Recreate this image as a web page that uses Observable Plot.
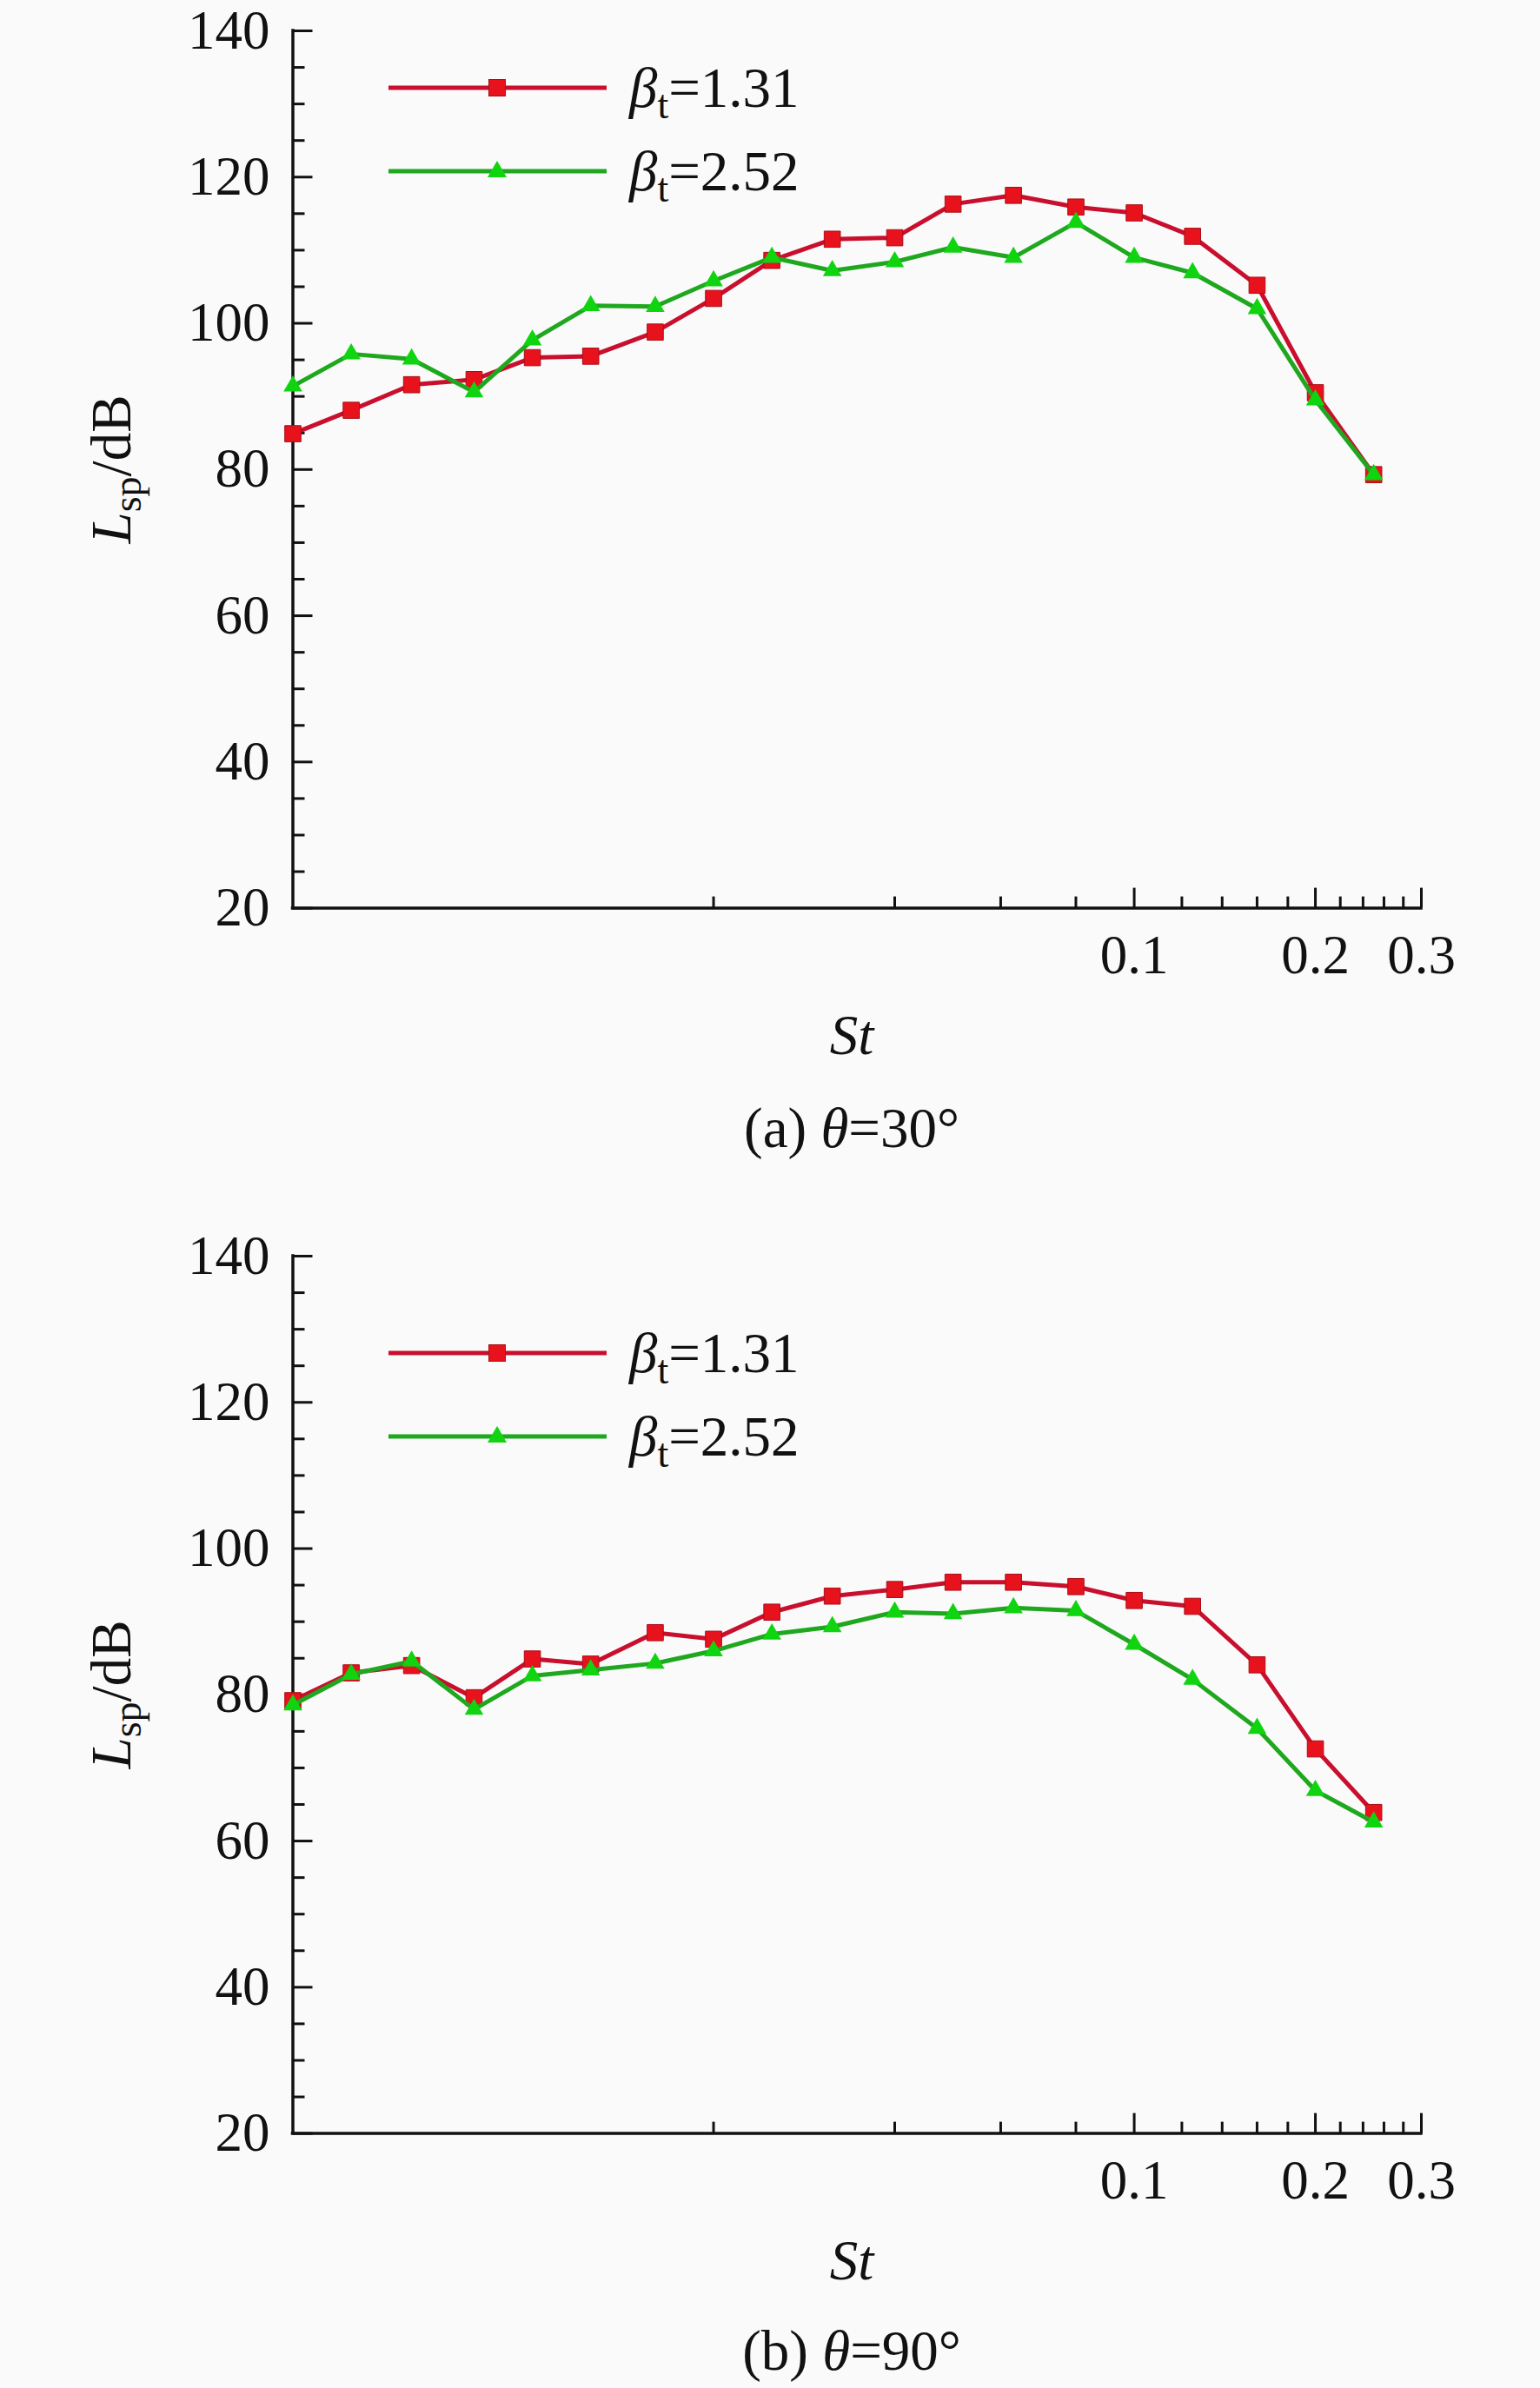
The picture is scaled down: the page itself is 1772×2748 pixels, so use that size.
<!DOCTYPE html>
<html>
<head>
<meta charset="utf-8">
<script src="https://cdn.jsdelivr.net/npm/d3@7"></script>
<script src="https://cdn.jsdelivr.net/npm/@observablehq/plot@0.6"></script>
<style>
  html, body { margin: 0; padding: 0; background: #fafafa; }
  #wrap { position: relative; width: 1772px; height: 2748px; background: #fafafa; overflow: hidden; }
  #wrap > svg, #wrap > figure { position: absolute; left: 0; margin: 0; }
  .ov { position: absolute; left: 0; top: 0; pointer-events: none; font-family: "Liberation Serif", "Times New Roman", serif; }
</style>
</head>
<body>
<div id="wrap"></div>
<script>
// Strouhal numbers (1/3-octave bands)
const st = [0.004, 0.005, 0.0063, 0.008, 0.01, 0.0125, 0.016, 0.02, 0.025, 0.0315, 0.04, 0.05, 0.063, 0.08, 0.1, 0.125, 0.16, 0.2, 0.25];
// (a) theta = 30 deg
const a131 = [84.9, 88.1, 91.6, 92.3, 95.3, 95.5, 98.8, 103.4, 108.6, 111.5, 111.7, 116.3, 117.5, 115.9, 115.1, 111.9, 105.2, 90.5, 79.3];
const a252 = [91.4, 95.8, 95.1, 90.6, 97.7, 102.4, 102.3, 105.8, 109.0, 107.2, 108.4, 110.4, 109.0, 113.8, 109.0, 106.9, 102.0, 89.5, 79.3];
// (b) theta = 90 deg
const b131 = [79.2, 83.0, 84.0, 79.6, 84.9, 84.2, 88.5, 87.6, 91.3, 93.5, 94.4, 95.4, 95.4, 94.8, 92.9, 92.1, 84.1, 72.6, 63.9];
const b252 = [78.6, 82.8, 84.6, 78.0, 82.6, 83.4, 84.3, 86.0, 88.3, 89.3, 91.3, 91.1, 91.9, 91.5, 86.9, 82.1, 75.4, 66.9, 62.6];

const seriesLabels = ["1.31", "2.52"];
const panelCaptions = [["(a) ", "θ", "=30°"], ["(b) ", "θ", "=90°"]];

const xDomain = [0.004, 0.3];
const yDomain = [20, 140];
const xTicksMajor = [0.1, 0.2, 0.3];
const xTicksMinor = [0.02, 0.04, 0.06, 0.08, 0.12, 0.14, 0.16, 0.18, 0.22, 0.24, 0.26, 0.28];
const yTicksMajor = [20, 40, 60, 80, 100, 120, 140];
const yTicksMinor = [25, 30, 35, 45, 50, 55, 65, 70, 75, 85, 90, 95, 105, 110, 115, 125, 130, 135];

const RED_LINE = "#c8102e", RED_MARK = "#e8121c";
const GREEN_LINE = "#1fa81f", GREEN_MARK = "#10d410";
const FONT = "Liberation Serif, Times New Roman, serif";

function rows(vals) { return st.map((s, i) => ({st: s, L: vals[i]})); }

function panel(v1, v2) {
  const r1 = rows(v1), r2 = rows(v2);
  return Plot.plot({
    width: 1772,
    height: 1150,
    marginLeft: 336.5,
    marginRight: 137,
    marginTop: 35,
    marginBottom: 105.4,
    style: {background: "transparent", fontFamily: FONT, fontSize: "63px", color: "#111", overflow: "visible"},
    x: {type: "log", domain: xDomain, label: null},
    y: {domain: yDomain, label: null},
    marks: [
      Plot.axisY(yTicksMinor, {tickSize: -14, text: null, strokeWidth: 3, label: null}),
      Plot.axisY(yTicksMajor, {tickSize: -23, text: null, strokeWidth: 3, label: null}),
      Plot.axisY(yTicksMajor, {tickSize: 0, tickPadding: 26.5, fontSize: 63, fontFamily: FONT, fill: "#111", label: null}),
      Plot.axisX(xTicksMinor, {tickSize: -13, text: null, strokeWidth: 3, label: null}),
      Plot.axisX(xTicksMajor, {tickSize: -23, text: null, strokeWidth: 3, label: null}),
      Plot.axisX(xTicksMajor, {tickSize: 0, tickPadding: 30, fontSize: 63, fontFamily: FONT, fill: "#111", tickFormat: d => String(d), label: null}),
      Plot.ruleX([xDomain[0]], {stroke: "#111", strokeWidth: 3.5, strokeLinecap: "square"}),
      Plot.ruleY([yDomain[0]], {stroke: "#111", strokeWidth: 3.5, strokeLinecap: "square"}),
      Plot.line(r1, {x: "st", y: "L", stroke: RED_LINE, strokeWidth: 5}),
      Plot.dot(r1, {x: "st", y: "L", symbol: "square", r: 10.5, fill: RED_MARK, stroke: "#a80e18", strokeWidth: 1}),
      Plot.line(r2, {x: "st", y: "L", stroke: GREEN_LINE, strokeWidth: 5}),
      Plot.dot(r2, {x: "st", y: "L", symbol: "triangle", r: 8, fill: GREEN_MARK})
    ]
  });
}

const wrap = document.getElementById("wrap");
const pa = panel(a131, a252);
pa.style.top = "0px";
wrap.appendChild(pa);
const pb = panel(b131, b252);
pb.style.top = "1410px";
wrap.appendChild(pb);

// Overlay: legends, axis titles and captions
const NS = "http://www.w3.org/2000/svg";
const ov = document.createElementNS(NS, "svg");
ov.setAttribute("class", "ov");
ov.setAttribute("width", 1772);
ov.setAttribute("height", 2748);
ov.setAttribute("font-family", FONT);
ov.setAttribute("font-size", 65);
ov.setAttribute("fill", "#111");
wrap.appendChild(ov);

function el(tag, attrs, parent) {
  const e = document.createElementNS(NS, tag);
  for (const k in attrs) e.setAttribute(k, attrs[k]);
  (parent || ov).appendChild(e);
  return e;
}
function tspan(parent, text, attrs) {
  const t = el("tspan", attrs || {}, parent);
  t.textContent = text;
  return t;
}

function legendEntry(cy, label, lineColor, markColor, shape) {
  el("line", {x1: 447, x2: 698, y1: cy, y2: cy, stroke: lineColor, "stroke-width": 5}, ov);
  if (shape === "square") {
    el("rect", {x: 572 - 9.5, y: cy - 9.5, width: 19, height: 19, fill: markColor, stroke: "#a80e18", "stroke-width": 1}, ov);
  } else {
    el("path", {d: `M572,${cy - 12}L583,${cy + 7}L561,${cy + 7}Z`, fill: markColor}, ov);
  }
  const t = el("text", {x: 724, y: cy + 22}, ov);
  tspan(t, "β", {"font-style": "italic"});
  tspan(t, "t", {"font-size": 46, dy: 13});
  tspan(t, "=" + label, {dy: -13});
}

function decorate(off, capParts) {
  legendEntry(101 + off.legend, seriesLabels[0], RED_LINE, RED_MARK, "square");
  legendEntry(197 + off.legend, seriesLabels[1], GREEN_LINE, GREEN_MARK, "triangle");
  // y title
  const yt = el("text", {transform: `translate(150,${540 + off.panel}) rotate(-90)`, "text-anchor": "middle"}, ov);
  tspan(yt, "L", {"font-style": "italic"});
  tspan(yt, "sp", {"font-size": 46, dy: 12});
  tspan(yt, "/dB", {dy: -12});
  // x title
  const xt = el("text", {x: 980, y: 1213 + off.panel, "text-anchor": "middle", "font-style": "italic"}, ov);
  xt.textContent = "St";
  // caption
  const cp = el("text", {x: 980, y: off.caption, "text-anchor": "middle"}, ov);
  tspan(cp, capParts[0]);
  tspan(cp, capParts[1], {"font-style": "italic"});
  tspan(cp, capParts[2]);
}

decorate({panel: 0, legend: 0, caption: 1320}, panelCaptions[0]);
decorate({panel: 1410, legend: 1456, caption: 2727}, panelCaptions[1]);
</script>
</body>
</html>
